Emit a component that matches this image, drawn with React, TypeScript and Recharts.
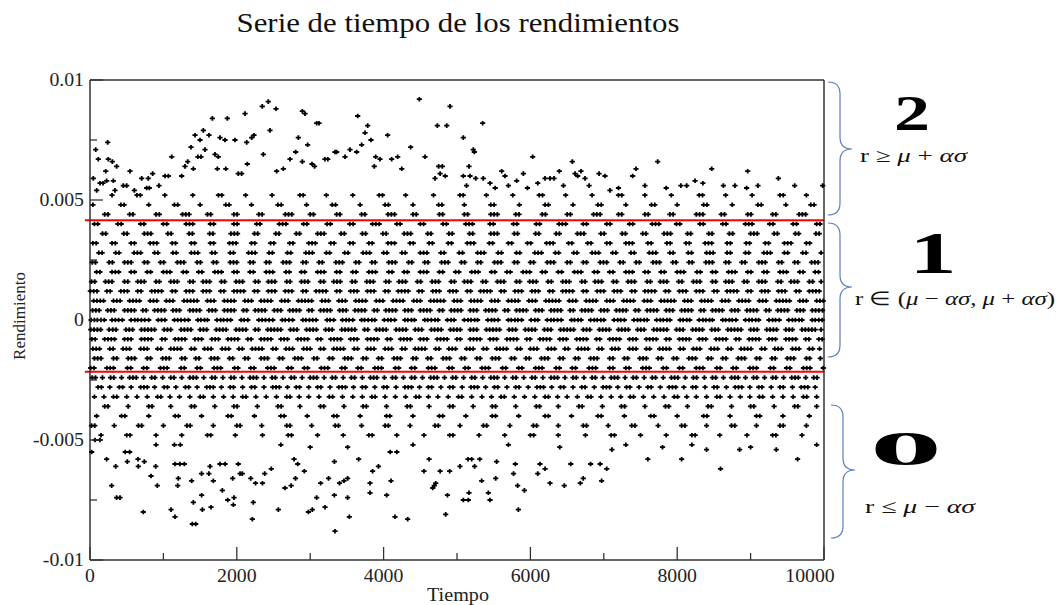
import React from 'react';
import { ScatterChart, Scatter, XAxis, YAxis, ReferenceLine } from 'recharts';

// ---------- axis data ----------
const xTicks = [0, 1000, 2000, 3000, 4000, 5000, 6000, 7000, 8000, 9000, 10000];
const yTicks = [-0.01, -0.0075, -0.005, -0.0025, 0, 0.0025, 0.005, 0.0075, 0.01];
const yMajor = [-0.01, -0.005, 0, 0.005, 0.01];
const yMajorText = ['-0.01', '-0.005', '0', '0.005', '0.01'];

// ---------- thresholds (mu +/- alpha*sigma) ----------
const upperBound = 0.00416;
const lowerBound = -0.00216;

// ---------- dense rows: times observed on each discrete return level ----------
const t_p52 = [300, 640, 685, 1020, 1400, 1750, 1795, 2120, 2480, 2860, 2905, 3220, 3580, 3940, 3985, 4300, 4680, 5040, 5085, 5400, 5760, 6120, 6165, 6480, 6840, 7200, 7245, 7560, 7920, 8300, 8345, 8660, 9020, 9400, 9445, 9760];
const t_p48 = [40, 420, 465, 800, 1150, 1195, 1500, 1850, 1895, 2200, 2560, 2605, 2950, 3300, 3345, 3680, 4020, 4065, 4400, 4750, 4795, 5100, 5460, 5505, 5850, 6200, 6245, 6580, 6920, 6965, 7300, 7650, 7695, 8000, 8360, 8405, 8750, 9100, 9145, 9480, 9820, 9865];
const t_p44 = [200, 245, 540, 585, 900, 945, 1260, 1305, 1350, 1600, 1645, 1960, 2005, 2300, 2345, 2660, 2705, 2750, 3000, 3045, 3360, 3405, 3700, 3745, 4060, 4105, 4150, 4400, 4445, 4760, 4805, 5100, 5145, 5460, 5505, 5550, 5800, 5845, 6160, 6205, 6500, 6545, 6860, 6905, 6950, 7200, 7245, 7560, 7605, 7900, 7945, 8260, 8305, 8350, 8600, 8645, 8960, 9005, 9300, 9345, 9660, 9705, 9750];
const t_p40 = [60, 105, 380, 425, 690, 735, 1000, 1045, 1310, 1355, 1400, 1640, 1685, 1960, 2005, 2270, 2315, 2580, 2625, 2670, 2910, 2955, 3230, 3275, 3540, 3585, 3850, 3895, 3940, 4180, 4225, 4500, 4545, 4810, 4855, 5120, 5165, 5210, 5450, 5495, 5770, 5815, 6080, 6125, 6390, 6435, 6480, 6720, 6765, 7040, 7085, 7350, 7395, 7660, 7705, 7750, 7990, 8035, 8310, 8355, 8620, 8665, 8930, 8975, 9020, 9260, 9305, 9580, 9625, 9900, 9945];
const t_p36 = [170, 215, 460, 505, 740, 785, 830, 1060, 1105, 1350, 1395, 1630, 1675, 1920, 1965, 2010, 2240, 2285, 2530, 2575, 2810, 2855, 3100, 3145, 3190, 3420, 3465, 3710, 3755, 3990, 4035, 4280, 4325, 4370, 4600, 4645, 4890, 4935, 5170, 5215, 5460, 5505, 5550, 5780, 5825, 6070, 6115, 6350, 6395, 6640, 6685, 6730, 6960, 7005, 7250, 7295, 7530, 7575, 7820, 7865, 7910, 8140, 8185, 8430, 8475, 8710, 8755, 9000, 9045, 9090, 9320, 9365, 9610, 9655, 9890, 9935];
const t_p32 = [40, 85, 300, 345, 560, 605, 820, 865, 910, 1120, 1165, 1380, 1425, 1640, 1685, 1900, 1945, 1990, 2200, 2245, 2460, 2505, 2720, 2765, 2980, 3025, 3070, 3280, 3325, 3540, 3585, 3800, 3845, 4060, 4105, 4150, 4360, 4405, 4620, 4665, 4880, 4925, 5140, 5185, 5230, 5440, 5485, 5700, 5745, 5960, 6005, 6220, 6265, 6310, 6520, 6565, 6780, 6825, 7040, 7085, 7300, 7345, 7390, 7600, 7645, 7860, 7905, 8120, 8165, 8380, 8425, 8470, 8680, 8725, 8940, 8985, 9200, 9245, 9460, 9505, 9550, 9760, 9805];
const t_p28 = [120, 165, 350, 395, 600, 645, 690, 880, 925, 1130, 1175, 1380, 1425, 1470, 1660, 1705, 1910, 1955, 2160, 2205, 2250, 2440, 2485, 2690, 2735, 2940, 2985, 3030, 3220, 3265, 3470, 3515, 3720, 3765, 3810, 4000, 4045, 4250, 4295, 4500, 4545, 4590, 4780, 4825, 5030, 5075, 5280, 5325, 5370, 5560, 5605, 5810, 5855, 6060, 6105, 6150, 6340, 6385, 6590, 6635, 6840, 6885, 6930, 7120, 7165, 7370, 7415, 7620, 7665, 7710, 7900, 7945, 8150, 8195, 8400, 8445, 8490, 8680, 8725, 8930, 8975, 9180, 9225, 9270, 9460, 9505, 9710, 9755, 9960];
const t_p24 = [30, 75, 260, 305, 470, 515, 560, 740, 785, 960, 1005, 1190, 1235, 1280, 1460, 1505, 1680, 1725, 1910, 1955, 2000, 2180, 2225, 2400, 2445, 2630, 2675, 2720, 2900, 2945, 3120, 3165, 3350, 3395, 3440, 3620, 3665, 3840, 3885, 4070, 4115, 4160, 4340, 4385, 4560, 4605, 4790, 4835, 4880, 5060, 5105, 5280, 5325, 5510, 5555, 5600, 5780, 5825, 6000, 6045, 6230, 6275, 6320, 6500, 6545, 6720, 6765, 6950, 6995, 7040, 7220, 7265, 7440, 7485, 7670, 7715, 7760, 7940, 7985, 8160, 8205, 8390, 8435, 8480, 8660, 8705, 8880, 8925, 9110, 9155, 9200, 9380, 9425, 9600, 9645, 9830, 9875, 9920];
const t_p20 = [90, 135, 300, 345, 390, 560, 605, 780, 825, 1000, 1045, 1090, 1270, 1315, 1480, 1525, 1700, 1745, 1790, 1960, 2005, 2180, 2225, 2400, 2445, 2490, 2670, 2715, 2880, 2925, 3100, 3145, 3190, 3360, 3405, 3580, 3625, 3800, 3845, 3890, 4070, 4115, 4280, 4325, 4500, 4545, 4590, 4760, 4805, 4980, 5025, 5200, 5245, 5290, 5470, 5515, 5680, 5725, 5900, 5945, 5990, 6160, 6205, 6380, 6425, 6600, 6645, 6690, 6870, 6915, 7080, 7125, 7300, 7345, 7390, 7560, 7605, 7780, 7825, 8000, 8045, 8090, 8270, 8315, 8480, 8525, 8700, 8745, 8790, 8960, 9005, 9180, 9225, 9400, 9445, 9490, 9670, 9715, 9880, 9925];
const t_p16 = [20, 65, 210, 255, 300, 470, 515, 650, 695, 740, 900, 945, 1100, 1145, 1190, 1360, 1405, 1540, 1585, 1630, 1790, 1835, 1990, 2035, 2080, 2250, 2295, 2430, 2475, 2520, 2680, 2725, 2880, 2925, 2970, 3140, 3185, 3320, 3365, 3410, 3570, 3615, 3770, 3815, 3860, 4030, 4075, 4210, 4255, 4300, 4460, 4505, 4660, 4705, 4750, 4920, 4965, 5100, 5145, 5190, 5350, 5395, 5550, 5595, 5640, 5810, 5855, 5990, 6035, 6080, 6240, 6285, 6440, 6485, 6530, 6700, 6745, 6880, 6925, 6970, 7130, 7175, 7330, 7375, 7420, 7590, 7635, 7770, 7815, 7860, 8020, 8065, 8220, 8265, 8310, 8480, 8525, 8660, 8705, 8750, 8910, 8955, 9110, 9155, 9200, 9370, 9415, 9550, 9595, 9640, 9800, 9845, 9960];
const t_p12 = [5, 50, 95, 230, 275, 420, 465, 510, 650, 695, 840, 885, 930, 975, 1120, 1165, 1310, 1355, 1400, 1540, 1585, 1630, 1780, 1825, 1960, 2005, 2050, 2095, 2240, 2285, 2430, 2475, 2520, 2660, 2705, 2750, 2900, 2945, 3080, 3125, 3170, 3215, 3360, 3405, 3550, 3595, 3640, 3780, 3825, 3870, 4020, 4065, 4200, 4245, 4290, 4335, 4480, 4525, 4670, 4715, 4760, 4900, 4945, 4990, 5140, 5185, 5320, 5365, 5410, 5455, 5600, 5645, 5790, 5835, 5880, 6020, 6065, 6110, 6260, 6305, 6440, 6485, 6530, 6575, 6720, 6765, 6910, 6955, 7000, 7140, 7185, 7230, 7380, 7425, 7560, 7605, 7650, 7695, 7840, 7885, 8030, 8075, 8120, 8260, 8305, 8350, 8500, 8545, 8680, 8725, 8770, 8815, 8960, 9005, 9150, 9195, 9240, 9380, 9425, 9470, 9620, 9665, 9800, 9845, 9890, 9935];
const t_p08 = [50, 95, 140, 185, 320, 365, 410, 540, 585, 630, 675, 820, 865, 910, 1040, 1085, 1130, 1280, 1325, 1370, 1415, 1460, 1600, 1645, 1690, 1830, 1875, 1920, 1965, 2110, 2155, 2200, 2330, 2375, 2420, 2465, 2610, 2655, 2700, 2840, 2885, 2930, 2975, 3020, 3160, 3205, 3250, 3390, 3435, 3480, 3620, 3665, 3710, 3755, 3900, 3945, 3990, 4130, 4175, 4220, 4265, 4410, 4455, 4500, 4640, 4685, 4730, 4775, 4820, 4960, 5005, 5050, 5190, 5235, 5280, 5325, 5470, 5515, 5560, 5700, 5745, 5790, 5835, 5980, 6025, 6070, 6210, 6255, 6300, 6345, 6390, 6530, 6575, 6620, 6760, 6805, 6850, 6895, 7040, 7085, 7130, 7270, 7315, 7360, 7405, 7550, 7595, 7640, 7780, 7825, 7870, 7915, 7960, 8100, 8145, 8190, 8330, 8375, 8420, 8465, 8610, 8655, 8700, 8840, 8885, 8930, 8975, 9120, 9165, 9210, 9350, 9395, 9440, 9485, 9530, 9670, 9715, 9760, 9900, 9945, 9990];
const t_p04 = [35, 80, 125, 240, 285, 330, 470, 515, 560, 605, 720, 765, 880, 925, 970, 1015, 1130, 1175, 1220, 1360, 1405, 1450, 1495, 1620, 1665, 1710, 1830, 1875, 1920, 1965, 2090, 2135, 2250, 2295, 2340, 2385, 2510, 2555, 2600, 2720, 2765, 2810, 2855, 2980, 3025, 3140, 3185, 3230, 3275, 3400, 3445, 3490, 3610, 3655, 3700, 3745, 3870, 3915, 4030, 4075, 4120, 4165, 4290, 4335, 4380, 4500, 4545, 4590, 4635, 4760, 4805, 4920, 4965, 5010, 5055, 5180, 5225, 5270, 5390, 5435, 5480, 5525, 5650, 5695, 5810, 5855, 5900, 5945, 6070, 6115, 6160, 6280, 6325, 6370, 6415, 6540, 6585, 6700, 6745, 6790, 6835, 6960, 7005, 7050, 7170, 7215, 7260, 7305, 7430, 7475, 7590, 7635, 7680, 7725, 7850, 7895, 7940, 8060, 8105, 8150, 8195, 8320, 8365, 8480, 8525, 8570, 8615, 8740, 8785, 8830, 8950, 8995, 9040, 9085, 9210, 9255, 9370, 9415, 9460, 9505, 9630, 9675, 9720, 9840, 9885, 9930, 9980];
const t_00 = [15, 60, 100, 150, 195, 300, 345, 390, 440, 560, 610, 650, 700, 745, 800, 930, 975, 1020, 1150, 1195, 1240, 1290, 1340, 1470, 1510, 1560, 1600, 1730, 1780, 1820, 1870, 1915, 2060, 2100, 2150, 2300, 2345, 2390, 2440, 2490, 2620, 2660, 2710, 2760, 2900, 2940, 2990, 3035, 3080, 3230, 3270, 3320, 3440, 3490, 3530, 3580, 3700, 3740, 3790, 3840, 3880, 4010, 4060, 4100, 4150, 4290, 4330, 4380, 4420, 4560, 4600, 4650, 4700, 4740, 4870, 4920, 4960, 5100, 5150, 5190, 5240, 5280, 5420, 5470, 5510, 5560, 5700, 5740, 5790, 5830, 5880, 6010, 6060, 6100, 6230, 6280, 6320, 6370, 6420, 6560, 6600, 6650, 6690, 6820, 6870, 6910, 6960, 7000, 7140, 7190, 7230, 7280, 7410, 7460, 7500, 7550, 7590, 7720, 7770, 7810, 7860, 7900, 8040, 8080, 8130, 8170, 8300, 8350, 8390, 8440, 8480, 8620, 8660, 8710, 8750, 8800, 8930, 8980, 9020, 9070, 9110, 9250, 9300, 9340, 9390, 9520, 9570, 9610, 9660, 9700, 9840, 9880, 9930, 9975];
const t_m04 = [10, 55, 100, 145, 260, 310, 355, 490, 535, 580, 700, 745, 790, 835, 880, 1010, 1055, 1100, 1240, 1285, 1330, 1375, 1500, 1545, 1590, 1720, 1765, 1810, 1855, 1990, 2035, 2080, 2125, 2250, 2295, 2420, 2465, 2510, 2555, 2600, 2730, 2775, 2820, 2950, 2995, 3040, 3085, 3210, 3255, 3300, 3430, 3475, 3520, 3565, 3610, 3740, 3785, 3900, 3945, 3990, 4035, 4170, 4215, 4260, 4305, 4430, 4475, 4520, 4650, 4695, 4740, 4785, 4910, 4955, 5000, 5045, 5180, 5225, 5270, 5400, 5445, 5490, 5535, 5580, 5710, 5755, 5800, 5930, 5975, 6020, 6065, 6190, 6235, 6280, 6410, 6455, 6500, 6545, 6590, 6720, 6765, 6810, 6940, 6985, 7030, 7075, 7200, 7245, 7290, 7335, 7460, 7505, 7550, 7680, 7725, 7770, 7815, 7860, 7990, 8035, 8080, 8210, 8255, 8300, 8345, 8470, 8515, 8560, 8690, 8735, 8780, 8825, 8870, 9000, 9045, 9090, 9220, 9265, 9310, 9355, 9480, 9525, 9570, 9700, 9745, 9790, 9835, 9880, 9960];
const t_m08 = [25, 70, 200, 245, 290, 335, 470, 515, 560, 700, 745, 790, 835, 980, 1025, 1160, 1205, 1250, 1295, 1430, 1475, 1520, 1660, 1705, 1750, 1880, 1925, 1970, 2015, 2150, 2195, 2330, 2375, 2420, 2465, 2600, 2645, 2690, 2830, 2875, 2920, 2965, 3100, 3145, 3280, 3325, 3370, 3415, 3550, 3595, 3640, 3780, 3825, 3870, 3915, 4050, 4095, 4230, 4275, 4320, 4365, 4500, 4545, 4590, 4730, 4775, 4820, 4865, 5000, 5045, 5180, 5225, 5270, 5315, 5450, 5495, 5540, 5680, 5725, 5770, 5815, 5950, 5995, 6130, 6175, 6220, 6265, 6400, 6445, 6490, 6630, 6675, 6720, 6765, 6900, 6945, 7080, 7125, 7170, 7215, 7350, 7395, 7440, 7580, 7625, 7670, 7715, 7850, 7895, 8030, 8075, 8120, 8165, 8300, 8345, 8390, 8530, 8575, 8620, 8665, 8800, 8845, 8980, 9025, 9070, 9115, 9250, 9295, 9340, 9480, 9525, 9570, 9615, 9750, 9795, 9930, 9975];
const t_m12 = [40, 85, 130, 270, 315, 450, 495, 540, 690, 735, 780, 920, 965, 1100, 1145, 1190, 1235, 1380, 1425, 1560, 1605, 1650, 1800, 1845, 1890, 2030, 2075, 2210, 2255, 2300, 2345, 2490, 2535, 2670, 2715, 2760, 2910, 2955, 3000, 3140, 3185, 3320, 3365, 3410, 3455, 3600, 3645, 3780, 3825, 3870, 4020, 4065, 4110, 4250, 4295, 4430, 4475, 4520, 4565, 4710, 4755, 4890, 4935, 4980, 5130, 5175, 5220, 5360, 5405, 5540, 5585, 5630, 5675, 5820, 5865, 6000, 6045, 6090, 6240, 6285, 6330, 6470, 6515, 6650, 6695, 6740, 6785, 6930, 6975, 7110, 7155, 7200, 7350, 7395, 7440, 7580, 7625, 7760, 7805, 7850, 7895, 8040, 8085, 8220, 8265, 8310, 8460, 8505, 8550, 8690, 8735, 8870, 8915, 8960, 9005, 9150, 9195, 9330, 9375, 9420, 9570, 9615, 9660, 9800, 9845, 9940];
const t_m16 = [60, 105, 150, 320, 365, 520, 565, 610, 780, 825, 990, 1035, 1080, 1250, 1295, 1440, 1485, 1650, 1695, 1740, 1900, 1945, 2110, 2155, 2330, 2375, 2420, 2580, 2625, 2790, 2835, 2880, 3050, 3095, 3260, 3305, 3470, 3515, 3560, 3720, 3765, 3930, 3975, 4140, 4185, 4230, 4400, 4445, 4600, 4645, 4810, 4855, 4900, 5060, 5105, 5270, 5315, 5480, 5525, 5570, 5740, 5785, 5940, 5985, 6150, 6195, 6240, 6400, 6445, 6610, 6655, 6820, 6865, 6910, 7080, 7125, 7280, 7325, 7490, 7535, 7580, 7740, 7785, 7950, 7995, 8160, 8205, 8250, 8420, 8465, 8620, 8665, 8830, 8875, 8920, 9080, 9125, 9290, 9335, 9500, 9545, 9590, 9760, 9805, 9950];
const t_m20 = [10, 55, 230, 275, 320, 510, 555, 730, 775, 960, 1005, 1050, 1240, 1285, 1460, 1505, 1690, 1735, 1780, 1970, 2015, 2190, 2235, 2420, 2465, 2510, 2700, 2745, 2920, 2965, 3150, 3195, 3240, 3430, 3475, 3650, 3695, 3880, 3925, 3970, 4160, 4205, 4380, 4425, 4610, 4655, 4700, 4890, 4935, 5110, 5155, 5340, 5385, 5430, 5620, 5665, 5840, 5885, 6070, 6115, 6160, 6350, 6395, 6570, 6615, 6800, 6845, 6890, 7080, 7125, 7300, 7345, 7530, 7575, 7620, 7810, 7855, 8030, 8075, 8260, 8305, 8350, 8540, 8585, 8760, 8805, 8990, 9035, 9080, 9270, 9315, 9490, 9535, 9720, 9765, 9810, 9990];
const t_m24 = [30, 75, 170, 280, 325, 430, 540, 585, 630, 730, 840, 885, 990, 1100, 1145, 1250, 1360, 1405, 1450, 1550, 1660, 1705, 1810, 1920, 1965, 2070, 2180, 2225, 2270, 2370, 2480, 2525, 2630, 2740, 2785, 2890, 3000, 3045, 3090, 3190, 3300, 3345, 3450, 3560, 3605, 3710, 3820, 3865, 3910, 4010, 4120, 4165, 4270, 4380, 4425, 4530, 4640, 4685, 4730, 4830, 4940, 4985, 5090, 5200, 5245, 5350, 5460, 5505, 5550, 5650, 5760, 5805, 5910, 6020, 6065, 6170, 6280, 6325, 6370, 6470, 6580, 6625, 6730, 6840, 6885, 6990, 7100, 7145, 7190, 7290, 7400, 7445, 7550, 7660, 7705, 7810, 7920, 7965, 8010, 8110, 8220, 8265, 8370, 8480, 8525, 8630, 8740, 8785, 8830, 8930, 9040, 9085, 9190, 9300, 9345, 9450, 9560, 9605, 9650, 9750, 9860, 9905];
const t_m28 = [110, 155, 270, 400, 445, 560, 690, 735, 780, 880, 1010, 1055, 1170, 1300, 1345, 1460, 1590, 1635, 1680, 1790, 1910, 1955, 2080, 2200, 2245, 2370, 2490, 2535, 2580, 2690, 2810, 2855, 2980, 3100, 3145, 3270, 3390, 3435, 3480, 3590, 3710, 3755, 3880, 4000, 4045, 4170, 4290, 4335, 4380, 4490, 4610, 4655, 4780, 4900, 4945, 5070, 5190, 5235, 5280, 5390, 5510, 5555, 5680, 5800, 5845, 5970, 6090, 6135, 6180, 6290, 6410, 6455, 6580, 6700, 6745, 6870, 6990, 7035, 7080, 7190, 7310, 7355, 7480, 7600, 7645, 7770, 7890, 7935, 7980, 8090, 8210, 8255, 8380, 8500, 8545, 8670, 8790, 8835, 8880, 8990, 9110, 9155, 9280, 9400, 9445, 9570, 9690, 9735, 9780, 9880];
const t_m32 = [60, 190, 320, 365, 500, 640, 780, 920, 965, 1090, 1220, 1360, 1500, 1545, 1680, 1820, 1950, 2080, 2125, 2260, 2400, 2540, 2680, 2725, 2850, 2980, 3120, 3260, 3305, 3440, 3580, 3710, 3840, 3885, 4020, 4160, 4300, 4440, 4485, 4610, 4740, 4880, 5020, 5065, 5200, 5340, 5470, 5600, 5645, 5780, 5920, 6060, 6200, 6245, 6370, 6500, 6640, 6780, 6825, 6960, 7100, 7230, 7360, 7405, 7540, 7680, 7820, 7960, 8005, 8130, 8260, 8400, 8540, 8585, 8720, 8860, 8990, 9120, 9165, 9300, 9440, 9580, 9720, 9765, 9900];
const t_m36 = [200, 245, 520, 800, 845, 1100, 1380, 1425, 1700, 1960, 2005, 2280, 2560, 2605, 2860, 3140, 3185, 3460, 3720, 3765, 4040, 4320, 4365, 4620, 4900, 4945, 5220, 5480, 5525, 5800, 6080, 6125, 6380, 6660, 6705, 6980, 7240, 7285, 7560, 7840, 7885, 8140, 8420, 8465, 8740, 9000, 9045, 9320, 9600, 9645, 9900];
const t_m40 = [90, 430, 475, 800, 1160, 1205, 1520, 1880, 1925, 2240, 2600, 2645, 2960, 3320, 3365, 3680, 4040, 4085, 4400, 4760, 4805, 5120, 5480, 5525, 5840, 6200, 6245, 6560, 6920, 6965, 7280, 7640, 7685, 8000, 8360, 8405, 8720, 9080, 9125, 9440, 9800];
const t_m44 = [20, 65, 330, 660, 705, 1000, 1320, 1365, 1680, 2000, 2045, 2340, 2680, 2725, 3020, 3340, 3385, 3700, 4020, 4065, 4360, 4700, 4745, 5040, 5360, 5405, 5720, 6040, 6085, 6380, 6720, 6765, 7060, 7380, 7425, 7740, 8060, 8105, 8400, 8740, 8785, 9080, 9400, 9445, 9760];
const t_m48 = [150, 500, 545, 900, 1250, 1600, 1645, 1980, 2350, 2700, 2745, 3100, 3450, 3800, 3845, 4180, 4550, 4900, 4945, 5300, 5650, 6000, 6045, 6380, 6750, 7100, 7145, 7500, 7850, 8200, 8245, 8580, 8950, 9300, 9345, 9700];

const denseRows: [number, number[]][] = [
  [0.0052, t_p52], [0.0048, t_p48], [0.0044, t_p44], [0.004, t_p40], [0.0036, t_p36],
  [0.0032, t_p32], [0.0028, t_p28], [0.0024, t_p24], [0.002, t_p20], [0.0016, t_p16],
  [0.0012, t_p12], [0.0008, t_p08], [0.0004, t_p04], [0, t_00], [-0.0004, t_m04],
  [-0.0008, t_m08], [-0.0012, t_m12], [-0.0016, t_m16], [-0.002, t_m20], [-0.0024, t_m24],
  [-0.0028, t_m28], [-0.0032, t_m32], [-0.0036, t_m36], [-0.004, t_m40], [-0.0044, t_m44],
  [-0.0048, t_m48],
];

// ---------- scattered extreme returns [time, return] ----------
const upperScatter: [number, number][] = [
  [78, 0.0071], [113, 0.0067], [241, 0.0074], [45, 0.0059], [91, 0.0054], [136, 0.0057], [177, 0.0057], [249, 0.0067], [304, 0.0066], [214, 0.0062],
  [363, 0.0064], [227, 0.0058], [318, 0.0058], [340, 0.0054], [545, 0.0062], [454, 0.0056], [500, 0.0056], [604, 0.0054], [704, 0.0059], [794, 0.0059],
  [854, 0.0061], [772, 0.0055], [808, 0.0055], [940, 0.0056], [1022, 0.006], [1067, 0.006], [1113, 0.0068], [1249, 0.006], [1294, 0.0064], [1331, 0.0066],
  [1376, 0.0072], [1431, 0.0077], [1408, 0.0063], [1499, 0.0075], [1544, 0.0079], [1470, 0.0068], [1512, 0.0068], [1567, 0.0071], [1667, 0.0084], [1621, 0.0077],
  [1703, 0.0069], [1748, 0.0068], [1771, 0.0076], [1839, 0.0075], [1871, 0.0084], [1735, 0.0063], [1850, 0.0063], [1975, 0.0075], [2112, 0.0086], [2135, 0.0074],
  [2203, 0.0076], [2234, 0.0077], [2143, 0.0065], [2020, 0.0061], [2066, 0.0061], [2347, 0.0089], [2429, 0.0091], [2534, 0.0088], [2452, 0.0079], [2361, 0.0069],
  [2543, 0.0062], [2634, 0.0063], [2725, 0.0067], [2802, 0.007], [2838, 0.0076], [2893, 0.0087], [2929, 0.0086], [2965, 0.0073], [2893, 0.0066], [3088, 0.0082],
  [3120, 0.0082], [3025, 0.0065], [3060, 0.0064], [3200, 0.0067], [3240, 0.0067], [3338, 0.007], [3360, 0.007], [3474, 0.0068], [3542, 0.0071], [3647, 0.0085],
  [3633, 0.007], [3701, 0.0073], [3747, 0.0078], [3783, 0.0081], [3828, 0.0075], [3892, 0.0068], [3951, 0.0067], [3873, 0.0064], [4055, 0.0077], [4110, 0.0067],
  [4192, 0.0068], [4247, 0.0063], [4369, 0.0072], [4487, 0.0092], [4564, 0.0068], [4732, 0.0081], [4860, 0.0081], [4905, 0.0089], [4750, 0.0064], [4800, 0.0064],
  [4700, 0.0059], [4770, 0.0061], [4840, 0.006], [5086, 0.0076], [5350, 0.0082], [5222, 0.0071], [5236, 0.007], [5163, 0.0064], [5086, 0.006], [5177, 0.006],
  [5255, 0.0059], [5358, 0.0059], [5130, 0.0056], [6031, 0.0068], [5609, 0.0062], [5654, 0.006], [5904, 0.0061], [5813, 0.0058], [6199, 0.0059], [6267, 0.0059],
  [6322, 0.0059], [6394, 0.0062], [6571, 0.0066], [6608, 0.0061], [6644, 0.006], [6689, 0.0062], [6744, 0.0059], [6935, 0.0061], [7016, 0.006], [7084, 0.0054],
  [7393, 0.006], [7439, 0.0063], [7734, 0.0066], [8243, 0.0058], [8129, 0.0056], [8470, 0.0063], [8629, 0.0056], [8787, 0.0056], [8960, 0.0062], [8946, 0.0055],
  [9378, 0.0059], [9982, 0.0056], [5450, 0.0057], [5520, 0.0055], [5700, 0.0056], [5960, 0.0055], [6100, 0.0057], [6450, 0.0056], [6800, 0.0056], [7200, 0.0055],
  [7560, 0.0056], [7850, 0.0055], [8050, 0.0056], [8350, 0.0057], [9100, 0.0056], [9600, 0.0056],
];
const lowerScatter: [number, number][] = [
  [68, -0.005], [136, -0.005], [23, -0.0055], [227, -0.0058], [350, -0.0061], [295, -0.0069], [363, -0.0074], [409, -0.0074], [480, -0.0055], [540, -0.0055],
  [508, -0.0059], [654, -0.0058], [658, -0.0061], [726, -0.008], [740, -0.0059], [831, -0.0065], [895, -0.0061], [917, -0.0069], [900, -0.0052], [1104, -0.0079],
  [1158, -0.0082], [1203, -0.0066], [1195, -0.0069], [1158, -0.006], [1226, -0.006], [1285, -0.006], [1150, -0.0052], [1230, -0.0052], [1394, -0.0085], [1440, -0.0085],
  [1408, -0.0076], [1385, -0.0067], [1521, -0.0073], [1531, -0.0079], [1649, -0.0078], [1520, -0.0064], [1620, -0.0064], [1635, -0.0061], [1680, -0.0067], [1803, -0.0071],
  [1876, -0.0075], [1962, -0.0074], [1953, -0.0077], [1770, -0.006], [1840, -0.006], [1944, -0.0066], [2044, -0.0064], [2075, -0.0064], [2020, -0.006], [2212, -0.0083],
  [2225, -0.0076], [2190, -0.0066], [2255, -0.0068], [2350, -0.0068], [2380, -0.0064], [2470, -0.0062], [2566, -0.0079], [2657, -0.007], [2800, -0.0066], [2740, -0.0069],
  [2830, -0.006], [2780, -0.0058], [2920, -0.0063], [2975, -0.008], [3029, -0.0079], [3088, -0.0074], [3142, -0.0068], [3202, -0.0078], [3250, -0.0066], [3330, -0.0059],
  [3329, -0.0073], [3338, -0.0088], [3400, -0.0068], [3460, -0.0067], [3510, -0.0066], [3510, -0.0074], [3533, -0.0082], [3510, -0.0053], [3660, -0.0058], [3815, -0.0068],
  [3815, -0.0072], [3850, -0.0063], [3930, -0.0061], [4042, -0.0073], [4101, -0.0067], [4155, -0.0082], [4328, -0.0083], [4090, -0.0055], [4180, -0.0055], [4550, -0.0063],
  [4620, -0.0058], [4670, -0.007], [4690, -0.0069], [4710, -0.0068], [4846, -0.0081], [4870, -0.0073], [4770, -0.0063], [4900, -0.0063], [5086, -0.0075], [5154, -0.0075],
  [5163, -0.0072], [5450, -0.0075], [5427, -0.0072], [5336, -0.0067], [5527, -0.0066], [5040, -0.0061], [5240, -0.0061], [5150, -0.0058], [5200, -0.0058], [5310, -0.0058],
  [5540, -0.0059], [5770, -0.0064], [5795, -0.006], [5836, -0.0079], [5918, -0.0071], [5826, -0.0069], [6100, -0.0064], [6130, -0.006], [6200, -0.0062], [6267, -0.0068],
  [6462, -0.0069], [6550, -0.006], [6680, -0.0068], [6720, -0.0066], [6820, -0.006], [6950, -0.006], [7040, -0.0062], [6970, -0.0067], [7110, -0.0054], [7600, -0.0058],
  [8060, -0.0058], [8590, -0.0062], [8400, -0.0054], [8850, -0.0054], [9350, -0.0054], [9640, -0.0058], [2600, -0.0052], [3000, -0.0053], [4400, -0.0052], [5700, -0.0052],
  [6400, -0.0053], [7300, -0.0052], [7800, -0.0053], [8200, -0.0052], [9000, -0.0053], [9900, -0.0052],
];

const points = [
  ...denseRows.flatMap(([level, times]) => times.map((t) => ({ t, r: level }))),
  ...upperScatter.map(([t, r]) => ({ t, r })),
  ...lowerScatter.map(([t, r]) => ({ t, r })),
];

// ---------- styling helpers ----------
const FONT = '"Liberation Serif", "Times New Roman", serif';
const AXIS = '#333';
const STRETCH = 1.13;
const charW: Record<string, number> = { '.': 0.25, '-': 0.333 };
const textW = (s: string, size: number) =>
  s.split('').reduce((a, c) => a + (charW[c] ?? 0.5), 0) * size * STRETCH;
const isMajorY = (v: number) => yMajor.some((m) => Math.abs(m - v) < 1e-9);
const majorYText = (v: number) => yMajorText[yMajor.findIndex((m) => Math.abs(m - v) < 1e-9)];

const Mark = (p: any) => (
  <path
    d={`M${p.cx - 2.6},${p.cy}h5.2M${p.cx},${p.cy - 2.3}v4.6`}
    stroke="#000"
    strokeWidth={1.8}
  />
);

const BottomTick = (p: any) => {
  const v = p.payload.value;
  const major = v % 2000 === 0;
  const s = String(v);
  const shift = v === 10000 ? -14 : 0;
  return (
    <g>
      <line x1={p.x} x2={p.x} y1={p.y} y2={p.y - (major ? 13 : 7)} stroke={AXIS} strokeWidth={1.3} />
      {major && (
        <text x={p.x + shift} y={p.y + 22} textAnchor="middle" fontFamily={FONT} fontSize={18} fill="#222"
          textLength={textW(s, 17.5)} lengthAdjust="spacingAndGlyphs">{s}</text>
      )}
    </g>
  );
};
const TopTick = (p: any) => {
  const major = p.payload.value % 2000 === 0;
  return <line x1={p.x} x2={p.x} y1={p.y} y2={p.y + (major ? 13 : 7)} stroke={AXIS} strokeWidth={1.3} />;
};
const LeftTick = (p: any) => {
  const v = p.payload.value;
  const major = isMajorY(v);
  const s = major ? majorYText(v) : '';
  return (
    <g>
      <line x1={p.x} x2={p.x + (major ? 13 : 7)} y1={p.y} y2={p.y} stroke={AXIS} strokeWidth={1.3} />
      {major && (
        <text x={p.x - 6} y={p.y + 6} textAnchor="end" fontFamily={FONT} fontSize={18} fill="#222"
          textLength={textW(s, 17.5)} lengthAdjust="spacingAndGlyphs">{s}</text>
      )}
    </g>
  );
};
const RightTick = (p: any) => {
  const major = isMajorY(p.payload.value);
  return <line x1={p.x} x2={p.x - (major ? 13 : 7)} y1={p.y} y2={p.y} stroke={AXIS} strokeWidth={1.3} />;
};

const brace = (x0: number, xb: number, xt: number, y0: number, ym: number, y1: number) => {
  const r = 12;
  return `M${x0},${y0} Q${xb},${y0} ${xb},${y0 + r} L${xb},${ym - r} Q${xb},${ym} ${xt},${ym} Q${xb},${ym} ${xb},${ym + r} L${xb},${y1 - r} Q${xb},${y1} ${x0},${y1}`;
};

const Greek = ({ children }: { children: string }) => <tspan fontStyle="italic">{children}</tspan>;

export default function App() {
  return (
    <div style={{ position: 'absolute', left: 0, top: 0, width: 1056, height: 605, background: '#fff' }}>
      <ScatterChart width={1056} height={605} margin={{ top: 79, right: 231, bottom: 15, left: 30 }}>
        <XAxis dataKey="t" type="number" domain={[0, 10000]} ticks={xTicks} interval={0} height={30}
          tickSize={0} tickMargin={0} tickLine={false} tick={BottomTick}
          axisLine={{ stroke: AXIS, strokeWidth: 1.5 }} />
        <XAxis xAxisId="top" orientation="top" type="number" domain={[0, 10000]} ticks={xTicks} interval={0} height={1}
          tickSize={0} tickMargin={0} tickLine={false} tick={TopTick}
          axisLine={{ stroke: AXIS, strokeWidth: 1.5 }} />
        <YAxis dataKey="r" type="number" domain={[-0.01, 0.01]} ticks={yTicks} interval={0} width={60}
          tickSize={0} tickMargin={0} tickLine={false} tick={LeftTick}
          axisLine={{ stroke: AXIS, strokeWidth: 1.5 }} />
        <YAxis yAxisId="right" orientation="right" type="number" domain={[-0.01, 0.01]} ticks={yTicks} interval={0} width={1}
          tickSize={0} tickMargin={0} tickLine={false} tick={RightTick}
          axisLine={{ stroke: AXIS, strokeWidth: 1.5 }} />
        <Scatter data={points} shape={Mark} isAnimationActive={false} />
        <ReferenceLine segment={[{ x: -70, y: upperBound }, { x: 10000, y: upperBound }]} ifOverflow="visible"
          stroke="#ff0000" strokeWidth={2} />
        <ReferenceLine segment={[{ x: -70, y: lowerBound }, { x: 10000, y: lowerBound }]} ifOverflow="visible"
          stroke="#ff0000" strokeWidth={2} />
      </ScatterChart>
      <svg width={1056} height={605} style={{ position: 'absolute', left: 0, top: 0, pointerEvents: 'none' }}>
        <text x={458} y={32} textAnchor="middle" fontFamily={FONT} fontSize={27} fill="#111"
          textLength={443} lengthAdjust="spacingAndGlyphs">Serie de tiempo de los rendimientos</text>
        <text x={458} y={601} textAnchor="middle" fontFamily={FONT} fontSize={18} fill="#222"
          textLength={62} lengthAdjust="spacingAndGlyphs">Tiempo</text>
        <text x={25} y={316} textAnchor="middle" fontFamily={FONT} fontSize={17} fill="#222"
          transform="rotate(-90, 25, 316)">Rendimiento</text>

        <path d={brace(828, 840, 852, 82, 149, 215)} fill="none" stroke="#5b7fbf" strokeWidth={1.2} />
        <path d={brace(828, 840, 852, 223, 287, 357)} fill="none" stroke="#5b7fbf" strokeWidth={1.2} />
        <path d={brace(831, 843, 855, 405, 470, 538)} fill="none" stroke="#5b7fbf" strokeWidth={1.2} />

        <text x={912} y={130} textAnchor="middle" fontFamily={FONT} fontWeight="bold" fontSize={51} fill="#000"
          textLength={36} lengthAdjust="spacingAndGlyphs">2</text>
        <text x={933} y={273} textAnchor="middle" fontFamily={FONT} fontWeight="bold" fontSize={60} fill="#000"
          textLength={47} lengthAdjust="spacingAndGlyphs">1</text>
        <text x={906} y={465} textAnchor="middle" fontFamily={FONT} fontWeight="bold" fontSize={48} fill="#000"
          textLength={72} lengthAdjust="spacingAndGlyphs">0</text>

        <text x={860} y={162} fontFamily={FONT} fontSize={19} fill="#111" textLength={107} lengthAdjust="spacingAndGlyphs">
          r ≥ <Greek>μ</Greek> + <Greek>ασ</Greek>
        </text>
        <text x={855} y={305} fontFamily={FONT} fontSize={19} fill="#111" textLength={200} lengthAdjust="spacingAndGlyphs">
          r ∈ (<Greek>μ</Greek> − <Greek>ασ</Greek>, <Greek>μ</Greek> + <Greek>ασ</Greek>)
        </text>
        <text x={865} y={513} fontFamily={FONT} fontSize={19} fill="#111" textLength={110} lengthAdjust="spacingAndGlyphs">
          r ≤ <Greek>μ</Greek> − <Greek>ασ</Greek>
        </text>
      </svg>
    </div>
  );
}
